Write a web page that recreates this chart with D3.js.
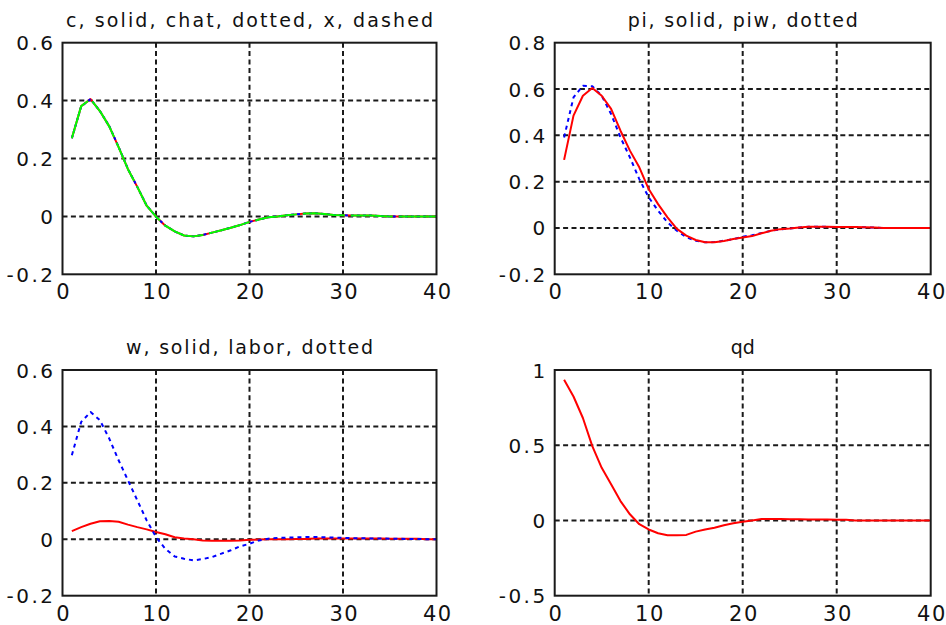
<!DOCTYPE html>
<html>
<head>
<meta charset="utf-8">
<script src="https://cdn.jsdelivr.net/npm/d3@7"></script>
<style>
  html, body { margin: 0; padding: 0; background: #fff; }
  svg { display: block; }
  text { font-family: "DejaVu Sans", sans-serif; fill: #111; }
</style>
</head>
<body>
<svg id="chart" width="946" height="625"></svg>
<script>
// ---------------- DATA ----------------
const periods = [1,2,3,4,5,6,7,8,9,10,11,12,13,14,15,16,17,18,19,20,21,22,23,24,25,26,27,28,29,30,31,32,33,34,35,36,37,38,39,40];
const xTicks = [0, 10, 20, 30, 40];
const xTickLabels = ["0", "10", "20", "30", "40"];

// panel 1: c (solid), chat (dotted), x (dashed)
const cVals    = [0.270,0.381,0.405,0.364,0.311,0.239,0.163,0.102,0.037,-0.001,-0.032,-0.052,-0.066,-0.069,-0.064,-0.056,-0.048,-0.039,-0.030,-0.019,-0.011,-0.003,0.000,0.004,0.007,0.010,0.011,0.008,0.005,0.004,0.003,0.003,0.003,0.001,0.000,0.000,0.000,0.000,0.000,0.000];
const chatVals = [0.270,0.380,0.405,0.364,0.312,0.240,0.164,0.102,0.038,-0.001,-0.032,-0.052,-0.066,-0.069,-0.064,-0.056,-0.048,-0.039,-0.030,-0.019,-0.011,-0.003,0.000,0.004,0.007,0.010,0.011,0.008,0.005,0.004,0.003,0.003,0.003,0.001,0.000,0.000,0.000,0.000,0.000,0.000];
const xVals    = [0.270,0.381,0.405,0.364,0.311,0.239,0.163,0.102,0.037,-0.001,-0.032,-0.052,-0.066,-0.069,-0.064,-0.056,-0.048,-0.039,-0.030,-0.019,-0.011,-0.003,0.000,0.004,0.007,0.010,0.011,0.008,0.005,0.004,0.003,0.003,0.003,0.001,0.000,0.000,0.000,0.000,0.000,0.000];

// panel 2: pi (solid), piw (dotted)
const piVals  = [0.294,0.485,0.571,0.604,0.571,0.514,0.420,0.334,0.262,0.168,0.103,0.046,-0.004,-0.033,-0.052,-0.062,-0.062,-0.056,-0.048,-0.041,-0.035,-0.023,-0.012,-0.005,-0.002,0.002,0.005,0.005,0.005,0.004,0.004,0.004,0.003,0.002,0.000,0.000,0.000,0.000,0.000,0.000];
const piwVals = [0.391,0.564,0.614,0.612,0.571,0.492,0.391,0.305,0.211,0.132,0.075,0.024,-0.012,-0.040,-0.055,-0.062,-0.061,-0.055,-0.048,-0.038,-0.031,-0.022,-0.012,-0.006,-0.002,0.002,0.005,0.005,0.005,0.004,0.004,0.004,0.003,0.002,0.000,0.000,0.000,0.000,0.000,0.000];

// panel 3: w (solid), labor (dotted)
const wVals     = [0.029,0.043,0.055,0.064,0.065,0.062,0.052,0.043,0.035,0.026,0.018,0.007,0.003,0.000,-0.004,-0.005,-0.005,-0.005,-0.004,-0.002,-0.001,0.000,0.000,0.000,0.001,0.001,0.003,0.003,0.003,0.003,0.003,0.003,0.003,0.003,0.002,0.002,0.002,0.002,0.000,0.000];
const laborVals = [0.298,0.416,0.451,0.422,0.357,0.280,0.209,0.138,0.067,0.008,-0.034,-0.061,-0.069,-0.075,-0.070,-0.063,-0.051,-0.039,-0.025,-0.016,-0.004,0.002,0.005,0.006,0.007,0.008,0.008,0.007,0.006,0.005,0.004,0.004,0.003,0.003,0.002,0.002,0.001,0.001,0.000,0.000];

// panel 4: qd
const qdVals = [0.935,0.824,0.681,0.494,0.350,0.240,0.129,0.041,-0.025,-0.060,-0.085,-0.098,-0.098,-0.096,-0.074,-0.060,-0.048,-0.032,-0.019,-0.008,0.000,0.009,0.009,0.009,0.008,0.008,0.007,0.007,0.006,0.005,0.004,0.000,0.000,0.000,0.000,0.000,0.000,0.000,0.000,0.000];

const yTicks1 = [-0.2, 0, 0.2, 0.4, 0.6];
const yTickLabels1 = ["-0.2", "0", "0.2", "0.4", "0.6"];
const yTicks2 = [-0.2, 0, 0.2, 0.4, 0.6, 0.8];
const yTickLabels2 = ["-0.2", "0", "0.2", "0.4", "0.6", "0.8"];
const yTicks4 = [-0.5, 0, 0.5, 1];
const yTickLabels4 = ["-0.5", "0", "0.5", "1"];

const titles = ["c, solid, chat, dotted, x, dashed", "pi, solid, piw, dotted", "w, solid, labor, dotted", "qd"];

// ---------------- DRAW ----------------
const svg = d3.select("#chart");
svg.append("rect").attr("width", 946).attr("height", 625).attr("fill", "#fff");

const panels = [
  { box: [62.5, 436.5, 42.7, 274.3], yDom: [-0.2, 0.6], yT: yTicks1, yL: yTickLabels1, title: titles[0], titleW: 367,
    series: [
      { v: cVals, color: "#ff0000", dash: null },
      { v: chatVals, color: "#0000ff", dash: "3,3" },
      { v: xVals, color: "#00ff00", dash: "42,6" }
    ] },
  { box: [554.7, 930.7, 42.7, 274.3], yDom: [-0.2, 0.8], yT: yTicks2, yL: yTickLabels2, title: titles[1], titleW: 230,
    series: [
      { v: piwVals, color: "#0000ff", dash: "4,4" },
      { v: piVals, color: "#ff0000", dash: null }
    ] },
  { box: [62.5, 436.5, 370, 595.7], yDom: [-0.2, 0.6], yT: yTicks1, yL: yTickLabels1, title: titles[2], titleW: 247,
    series: [
      { v: wVals, color: "#ff0000", dash: null },
      { v: laborVals, color: "#0000ff", dash: "4,4" }
    ] },
  { box: [554.7, 930.7, 370, 595.7], yDom: [-0.5, 1], yT: yTicks4, yL: yTickLabels4, title: titles[3], titleW: null,
    series: [
      { v: qdVals, color: "#ff0000", dash: null }
    ] }
];

panels.forEach(p => {
  const [L, R, T, B] = p.box;
  const x = d3.scaleLinear().domain([0, 40]).range([L, R]);
  const y = d3.scaleLinear().domain(p.yDom).range([B, T]);
  const g = svg.append("g");

  // grid
  const gridX = xTicks.filter(v => v > 0 && v < 40);
  const gridY = p.yT.filter(v => v > p.yDom[0] && v < p.yDom[1]);
  g.selectAll(".gx").data(gridX).join("line")
    .attr("x1", d => x(d)).attr("x2", d => x(d)).attr("y1", T).attr("y2", B)
    .attr("stroke", "#1a1a1a").attr("stroke-width", 2).attr("stroke-dasharray", "5,3.4");
  g.selectAll(".gy").data(gridY).join("line")
    .attr("x1", L).attr("x2", R).attr("y1", d => y(d)).attr("y2", d => y(d))
    .attr("stroke", "#1a1a1a").attr("stroke-width", 2).attr("stroke-dasharray", "5,3.4");

  // lines
  const line = d3.line().x((d, i) => x(periods[i])).y(d => y(d));
  p.series.forEach(s => {
    g.append("path").datum(s.v).attr("d", line)
      .attr("fill", "none").attr("stroke", s.color).attr("stroke-width", 2)
      .attr("stroke-linejoin", "round")
      .attr("stroke-dasharray", s.dash);
  });

  // box
  g.append("rect").attr("x", L).attr("y", T).attr("width", R - L).attr("height", B - T)
    .attr("fill", "none").attr("stroke", "#1a1a1a").attr("stroke-width", 2);

  // axes (labels via d3 axes)
  const xAxis = d3.axisBottom(x).tickValues(xTicks).tickFormat((d, i) => xTickLabels[i]).tickSize(0).tickPadding(0);
  const xa = g.append("g").attr("transform", `translate(0,${B})`).call(xAxis);
  xa.select(".domain").remove();
  xa.selectAll("text").attr("font-family", "DejaVu Sans").attr("font-size", 21)
    .attr("fill", "#111").attr("dy", null).attr("y", 25)
    .style("letter-spacing", "1.5px").attr("dx", 0.75);

  const yAxis = d3.axisLeft(y).tickValues(p.yT).tickFormat((d, i) => p.yL[i]).tickSize(0).tickPadding(0);
  const ya = g.append("g").attr("transform", `translate(${L},0)`).call(yAxis);
  ya.select(".domain").remove();
  ya.selectAll("text").attr("font-family", "DejaVu Sans").attr("font-size", 20)
    .attr("fill", "#111").attr("dy", null).attr("y", 7).attr("x", -7)
    .style("letter-spacing", "2.5px");

  // title
  const t = g.append("text").attr("x", (L + R) / 2).attr("y", T - 16)
    .attr("text-anchor", "middle").attr("font-size", 19).attr("fill", "#111").text(p.title);
  if (p.titleW) t.attr("textLength", p.titleW).attr("lengthAdjust", "spacing");
});
</script>
</body>
</html>
